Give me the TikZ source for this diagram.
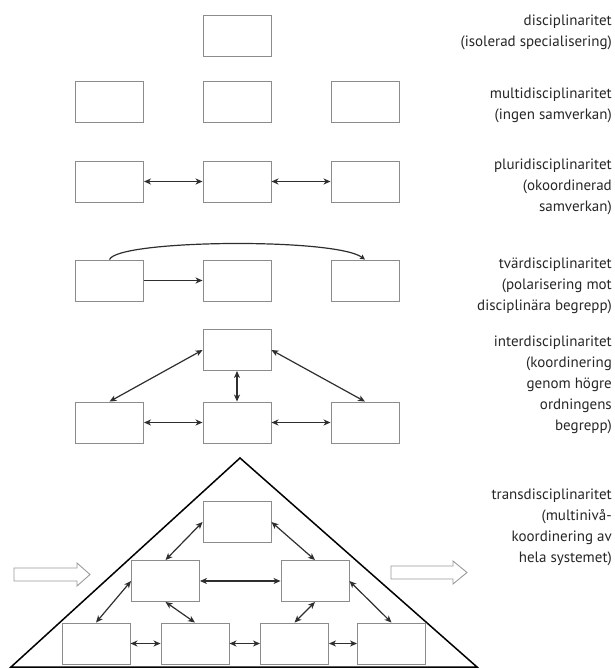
\documentclass[tikz,border=0pt]{standalone}
\usepackage{fontspec}
\setmainfont{PT Sans}
\usetikzlibrary{arrows.meta}
\definecolor{boxgray}{HTML}{8C8C8C}
\definecolor{arrgray}{HTML}{2E2E2E}
\definecolor{hollow}{HTML}{9A9A9A}
\begin{document}
\begin{tikzpicture}[x=1pt,y=-1pt,
  dbox/.style={draw=boxgray,line width=0.9pt,fill=white,minimum width=68pt,minimum height=41pt,inner sep=0pt},
  conn/.style={draw=arrgray,line width=1.2pt,{Stealth[length=7pt,width=6pt,inset=2pt]}-{Stealth[length=7pt,width=6pt,inset=2pt]}},
  oneway/.style={draw=arrgray,line width=1.2pt,-{Stealth[length=7pt,width=6pt,inset=2pt]}},
  lab/.style={anchor=east,align=right,font=\fontsize{15}{21}\selectfont,inner sep=0pt,text=black!85},
  hol/.style={draw=hollow,line width=0.9pt,fill=white}]
\useasboundingbox (0,0) rectangle (614,669);
% row 1
\node[dbox] (d1) at (237,36) {};
% row 2
\node[dbox] (m1) at (109.5,101.5) {};
\node[dbox] (m2) at (237,101.5) {};
\node[dbox] (m3) at (365,101.5) {};
% row 3
\node[dbox] (p1) at (109.5,181.5) {};
\node[dbox] (p2) at (237,181.5) {};
\node[dbox] (p3) at (365,181.5) {};
\draw[conn] (p1) -- (p2);
\draw[conn] (p2) -- (p3);
% row 4
\node[dbox] (t1) at (109.5,280.5) {};
\node[dbox] (t2) at (237,280.5) {};
\node[dbox] (t3) at (365,280.5) {};
\draw[oneway] (t1) -- (t2);
\draw[draw=arrgray,line width=1.2pt,-{Stealth[length=5pt,width=5pt,inset=1pt]}] (t1.north) .. controls +(8,-20) and +(-30,-22) .. (t3.north);
% row 5
\node[dbox] (i0) at (237,350) {};
\node[dbox] (i1) at (109.5,422.5) {};
\node[dbox] (i2) at (237,422.5) {};
\node[dbox] (i3) at (365,422.5) {};
\draw[conn] (i0.west) -- (i1.north);
\draw[conn] (i0.east) -- (i3.north);
\draw[conn] (i0.south) -- (i2.north);
\draw[conn] (i1) -- (i2);
\draw[conn] (i2) -- (i3);
% triangle
\coordinate (A) at (11,667);
\coordinate (B) at (240,458);
\coordinate (C) at (477,667);
\draw[black,line width=1.5pt,line join=miter] (A) -- (B) -- (C) -- cycle;
\node[dbox] (T) at (237,522) {};
\node[dbox] (ML) at (165.5,581) {};
\node[dbox] (MR) at (315,581) {};
\node[dbox] (B1) at (96,643.5) {};
\node[dbox] (B2) at (195,643.5) {};
\node[dbox] (B3) at (294.5,643.5) {};
\node[dbox] (B4) at (391.5,643.5) {};
\draw[conn] (T.west) -- (ML.north);
\draw[conn] (T.east) -- (MR.north);
\draw[conn] (ML) -- (MR);
\draw[conn] (ML.west) -- (B1.north);
\draw[conn] (ML.south) -- (B2.north);
\draw[conn] (MR.south) -- (B3.north);
\draw[conn] (MR.east) -- (B4.north);
\draw[conn] (B1) -- (B2);
\draw[conn] (B2) -- (B3);
\draw[conn] (B3) -- (B4);
% hollow arrows
\draw[hol] (14,568) -- (77,568) -- (77,563) -- (90,574.5) -- (77,586) -- (77,581) -- (14,581) -- cycle;
\draw[hol] (391,566) -- (453,566) -- (453,561) -- (467,572.5) -- (453,584) -- (453,579) -- (391,579) -- cycle;
% labels
\node[lab] (L1) at (612,32.5) {disciplinaritet\\(isolerad specialisering)};
\node[lab] (L2) at (612,105) {multidisciplinaritet\\(ingen samverkan)};
\node[lab] (L3) at (612,187) {pluridisciplinaritet\\(okoordinerad\\samverkan)};
\node[lab] (L4) at (612,286) {tvärdisciplinaritet\\(polarisering mot\\disciplinära begrepp)};
\node[lab] (L5) at (612,385) {interdisciplinaritet\\(koordinering\\genom högre\\ordningens\\begrepp)};
\node[lab] (L6) at (612,527.5) {transdisciplinaritet\\(multinivå-\\koordinering av\\hela systemet)};
\end{tikzpicture}
\end{document}
